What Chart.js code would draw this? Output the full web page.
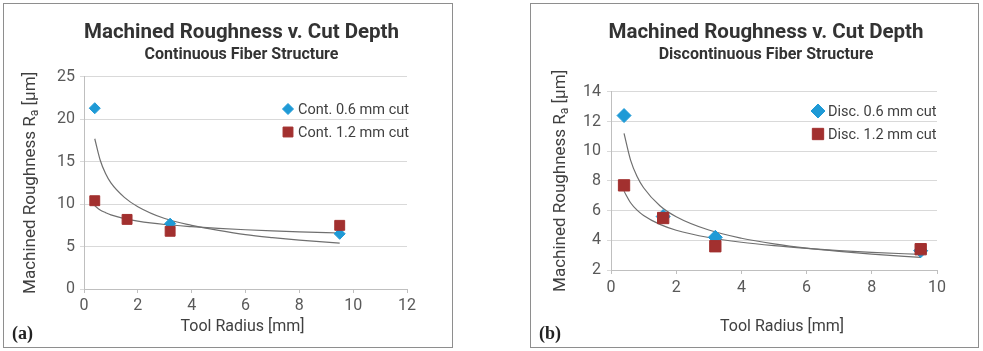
<!DOCTYPE html>
<html>
<head>
<meta charset="utf-8">
<script src="https://cdn.jsdelivr.net/npm/chart.js@4.4.1/dist/chart.umd.min.js"></script>
<style>
    body { margin: 0; background: #fff; width: 983px; height: 351px; position: relative; overflow: hidden; font-family: Roboto, sans-serif; }
    .panel { position: absolute; top: 3px; height: 343px; border: 1px solid #8e8e8e; }
    .panel canvas { display: block; }
    .tag { position: absolute; top: 323px; font: bold 18px "Liberation Serif", serif; color: #222; }
</style>
</head>
<body>
<div class="panel" style="left:3px; width:448px;"><canvas id="chart1" width="448" height="343"></canvas></div>
<div class="panel" style="left:530px; width:447px;"><canvas id="chart2" width="447" height="343"></canvas></div>
<div class="tag" style="left:12px;">(a)</div>
<div class="tag" style="left:539px;">(b)</div>

<script>
// Tool radius [mm] and roughness Ra [um]
var contRadiusThin = [0.4, 3.2, 9.5];
var contThin = [21.3, 7.7, 6.5];
var contRadiusThick = [0.4, 1.6, 3.2, 9.5];
var contThick = [10.4, 8.2, 6.8, 7.5];

var discRadius = [0.4, 1.6, 3.2, 9.5];
var discThin = [12.4, 5.6, 4.2, 3.3];
var discThick = [7.7, 5.5, 3.6, 3.4];

// trendline curves
var trendRadius = [0.4, 0.6, 0.8, 1, 1.5, 2, 3, 4, 5, 6, 7, 8, 9.5];
var contThinTrend = [17.7, 15.2, 13.6, 12.5, 10.8, 9.7, 8.3, 7.5, 6.9, 6.4, 6.05, 5.76, 5.4];
var contThickTrend = [9.8, 9.3, 9.0, 8.74, 8.3, 8.0, 7.6, 7.35, 7.15, 6.98, 6.85, 6.74, 6.6];
var discThinTrend = [11.2, 9.4, 8.3, 7.54, 6.33, 5.59, 4.69, 4.14, 3.76, 3.47, 3.25, 3.07, 2.85];
var discThickTrend = [7.3, 6.53, 6.03, 5.67, 5.07, 4.68, 4.19, 3.87, 3.64, 3.46, 3.31, 3.19, 3.05];

var blue = '#1f9ad6';
var red = '#a2302f';

function pts(xs, ys) {
    return xs.map(function (x, i) { return { x: x, y: ys[i] }; });
}

function markerSet(label, xs, ys, color, style, radius, order) {
    return {
        label: label,
        data: pts(xs, ys),
        pointStyle: style,
        pointRadius: radius,
        pointHoverRadius: radius,
        backgroundColor: color,
        borderColor: color,
        borderWidth: 1,
        showLine: false,
        order: order
    };
}

function trendSet(ys) {
    return {
        data: pts(trendRadius, ys),
        showLine: true,
        pointRadius: 0,
        borderColor: '#6f6f6f',
        borderWidth: 1.2,
        cubicInterpolationMode: 'monotone',
        order: 5
    };
}

// legend drawn inside the plot, top right
var insideLegend = {
    id: 'insideLegend',
    afterDraw: function (chart, args, opts) {
        var ctx = chart.ctx;
        var x = chart.chartArea.right - 119;
        ctx.save();
        opts.items.forEach(function (idx, i) {
            var ds = chart.data.datasets[idx];
            var y = opts.top + i * 23;
            ctx.fillStyle = ds.backgroundColor;
            ctx.strokeStyle = ds.borderColor;
            ctx.lineWidth = 1;
            Chart.helpers.drawPoint(ctx, { pointStyle: ds.pointStyle, radius: ds.pointRadius, borderWidth: 1, rotation: 0 }, x, y);
            ctx.fillStyle = '#404040';
            ctx.font = '14.5px Roboto';
            ctx.textBaseline = 'middle';
            ctx.textAlign = 'left';
            ctx.fillText(ds.label, x + 10, y + 1);
        });
        ctx.restore();
    }
};

// the titles sit a little off the plot centre, as in the picture
var titleShift = {
    id: 'titleShift',
    afterLayout: function (chart, args, opts) {
        chart.boxes.forEach(function (box) {
            if (box.options && box.options.text && box.position === 'top') {
                box.left += opts.dx;
                box.right += opts.dx;
            }
        });
    }
};

// axis titles; the y one has a real subscript "a"
var axisTitles = {
    id: 'axisTitles',
    afterDraw: function (chart, args, opts) {
        var ctx = chart.ctx;
        var area = chart.chartArea;
        ctx.save();
        ctx.fillStyle = '#404040';
        ctx.textBaseline = 'middle';
        ctx.textAlign = 'center';
        ctx.font = '16px Roboto';
        ctx.fillText('Tool Radius [mm]', (area.left + area.right) / 2 + opts.xShift, opts.xTitleY);

        var main = 'Machined Roughness R', sub = 'a', tail = ' [\u03bcm]';
        ctx.translate(opts.yTitleX, (area.top + area.bottom) / 2);
        ctx.rotate(-Math.PI / 2);
        ctx.textBaseline = 'alphabetic';
        ctx.textAlign = 'left';
        ctx.font = '17px Roboto';
        var w1 = ctx.measureText(main).width;
        var w3 = ctx.measureText(tail).width;
        ctx.font = '12px Roboto';
        var w2 = ctx.measureText(sub).width;
        var x = -(w1 + w2 + w3) / 2;
        var base = 6;
        ctx.font = '17px Roboto';
        ctx.fillText(main, x, base);
        ctx.font = '12px Roboto';
        ctx.fillText(sub, x + w1, base + 3);
        ctx.font = '17px Roboto';
        ctx.fillText(tail, x + w1 + w2, base);
        ctx.restore();
    }
};

function makeChart(id, opt) {
    var ctx = document.getElementById(id).getContext('2d');
    return new Chart(ctx, {
        type: 'scatter',
        data: { datasets: opt.datasets },
        plugins: [insideLegend, axisTitles, titleShift],
        options: {
            responsive: false,
            animation: false,
            events: [],
            layout: { padding: { left: 10, right: opt.padRight, top: 0, bottom: 0 } },
            plugins: {
                legend: { display: false },
                tooltip: { enabled: false },
                title: {
                    display: true,
                    text: 'Machined Roughness v. Cut Depth',
                    fullSize: false,
                    color: '#333333',
                    font: { family: 'Roboto', size: 20.5, weight: 'bold' },
                    padding: { top: 17, bottom: 0 }
                },
                subtitle: {
                    display: true,
                    text: opt.subtitle,
                    fullSize: false,
                    color: '#333333',
                    font: { family: 'Roboto', size: 16, weight: 'bold' },
                    padding: { top: 0, bottom: opt.subPad }
                },
                insideLegend: { items: [0, 1], top: opt.legendTop },
                axisTitles: { yTitleX: opt.yTitleX, xTitleY: 323, xShift: opt.xTitleShift },
                titleShift: { dx: opt.titleShift }
            },
            scales: {
                x: {
                    type: 'linear',
                    min: 0,
                    max: opt.xMax,
                    afterFit: function (scale) { scale.height = opt.xHeight; },
                    ticks: { stepSize: 2, padding: opt.xTickPad, color: '#595959', font: { family: 'Roboto', size: 16 } },
                    grid: { display: true, drawOnChartArea: false, drawTicks: true, tickLength: 4, color: '#bfbfbf' },
                    border: { display: true, color: '#bfbfbf' },
                    title: { display: false }
                },
                y: {
                    min: opt.yMin,
                    max: opt.yMax,
                    afterFit: function (scale) { scale.width = 70; },
                    ticks: { stepSize: opt.yStep, padding: opt.yTickPad, color: '#595959', font: { family: 'Roboto', size: 16 } },
                    grid: { color: '#d9d9d9', drawTicks: true, tickLength: 4 },
                    border: { display: true, color: '#bfbfbf' },
                    title: { display: false }
                }
            }
        }
    });
}

document.addEventListener('DOMContentLoaded', function () {
    makeChart('chart1', {
        subtitle: 'Continuous Fiber Structure',
        subPad: 12,
        padRight: 45,
        titleShift: -4,
        xTitleShift: -3,
        xMax: 12, xHeight: 58, xTickPad: 3,
        yMin: 0, yMax: 25, yStep: 5, yTickPad: 5,
        yTitleX: 25,
        legendTop: 105,
        datasets: [
            markerSet('Cont. 0.6 mm cut', contRadiusThin, contThin, blue, 'rectRot', 5.5, 2),
            markerSet('Cont. 1.2 mm cut', contRadiusThick, contThick, red, 'rect', 7, 1),
            trendSet(contThinTrend),
            trendSet(contThickTrend)
        ]
    });

    makeChart('chart2', {
        subtitle: 'Discontinuous Fiber Structure',
        subPad: 27,
        padRight: 41,
        titleShift: -8,
        xTitleShift: 8,
        xMax: 10, xHeight: 77, xTickPad: 4,
        yMin: 2, yMax: 14, yStep: 2, yTickPad: 6,
        yTitleX: 28,
        legendTop: 107,
        datasets: [
            markerSet('Disc. 0.6 mm cut', discRadius, discThin, blue, 'rectRot', 7, 2),
            markerSet('Disc. 1.2 mm cut', discRadius, discThick, red, 'rect', 8, 1),
            trendSet(discThinTrend),
            trendSet(discThickTrend)
        ]
    });
});
</script>
</body>
</html>
